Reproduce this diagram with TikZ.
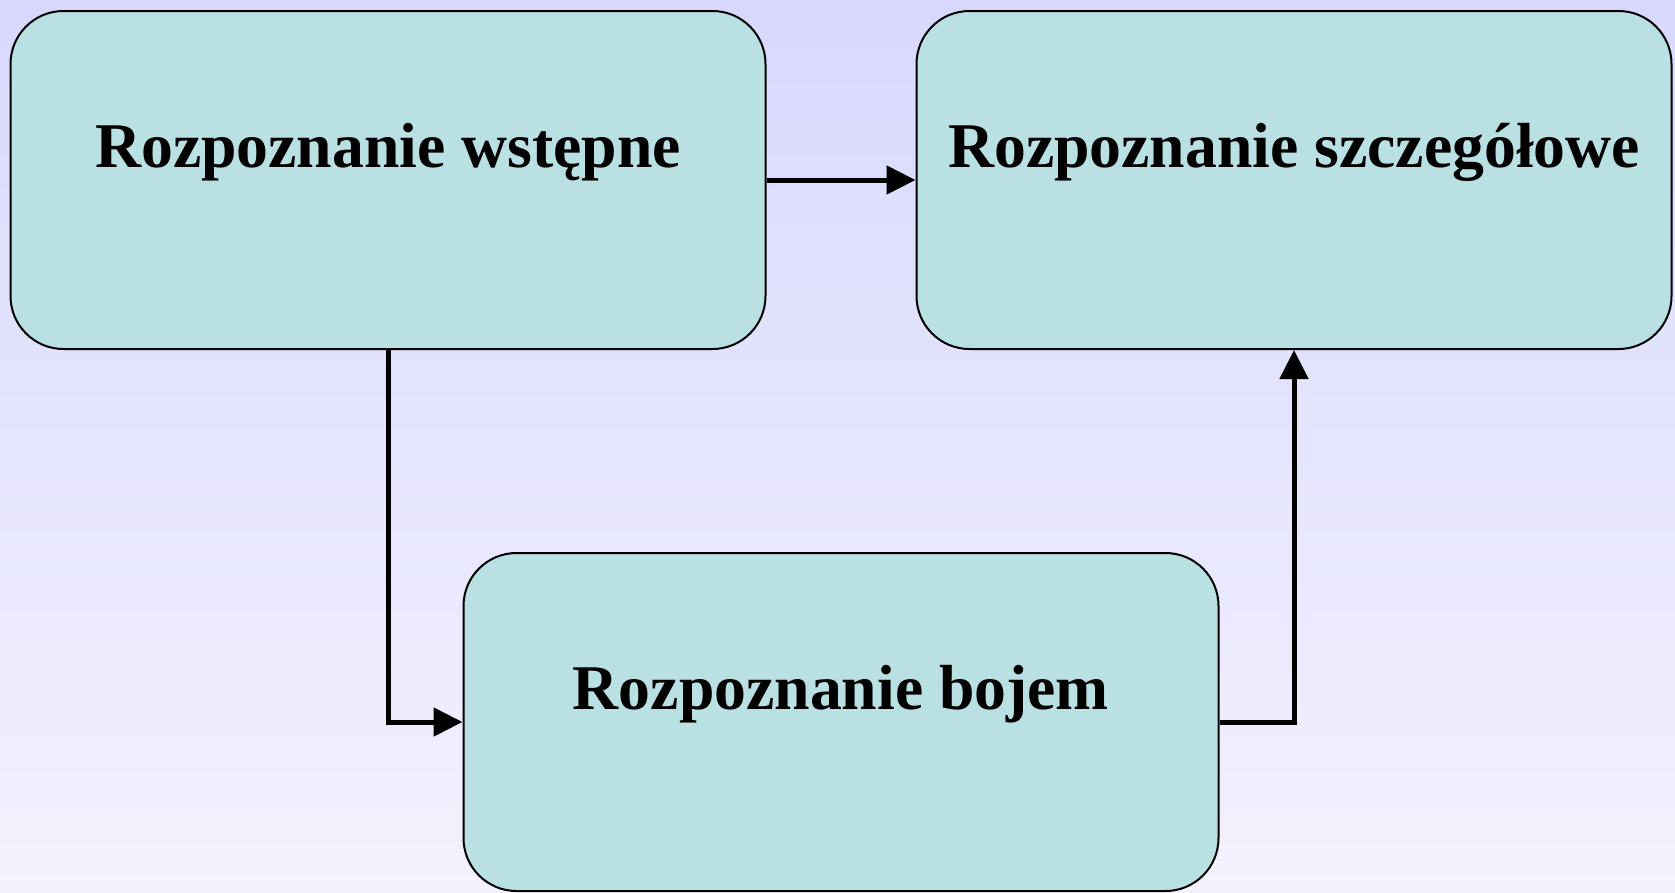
\documentclass[tikz,border=0pt]{standalone}
\usepackage{fontspec}
\setmainfont{Liberation Serif}
\usetikzlibrary{arrows.meta, positioning, calc, shapes}

\definecolor{tlogora}{RGB}{216,216,255}
\definecolor{tlodol}{RGB}{243,242,253}
\definecolor{blokfill}{RGB}{185,224,226}

\tikzset{
  blok/.style={draw=black, line width=2pt, fill=blokfill, rounded corners=53pt,
    minimum width=755pt, minimum height=338pt, inner sep=0pt},
  napis/.style={anchor=base, font=\fontsize{63.7}{70}\selectfont\bfseries},
  strz/.style={line width=5pt, -{Triangle[length=29pt,width=28pt]}}
}

\begin{document}
\begin{tikzpicture}[x=1pt,y=-1pt]
\useasboundingbox (0,0) rectangle (1675,892);
\shade[top color=tlogora, bottom color=tlodol] (0,0) rectangle (1675,892);

% bloki
\node[blok] (wst) at (388,180) {};
\node[napis] (wstT) at ([yshift=-157pt]wst.north) {Rozpoznanie wstępne};
\node[blok] (szcz) at (1294,180) {};
\node[napis] (szczT) at ([yshift=-157pt]szcz.north) {Rozpoznanie szczegółowe};
\node[blok] (boj) at (841,722) {};
\node[napis] (bojT) at ([yshift=-157pt]boj.north) {Rozpoznanie bojem};

% strzalki
\draw[strz] (wst.east) -- (szcz.west);
\draw[strz] (wst.south) |- (boj.west);
\draw[strz] (boj.east) -| (szcz.south);

\end{tikzpicture}
\end{document}
